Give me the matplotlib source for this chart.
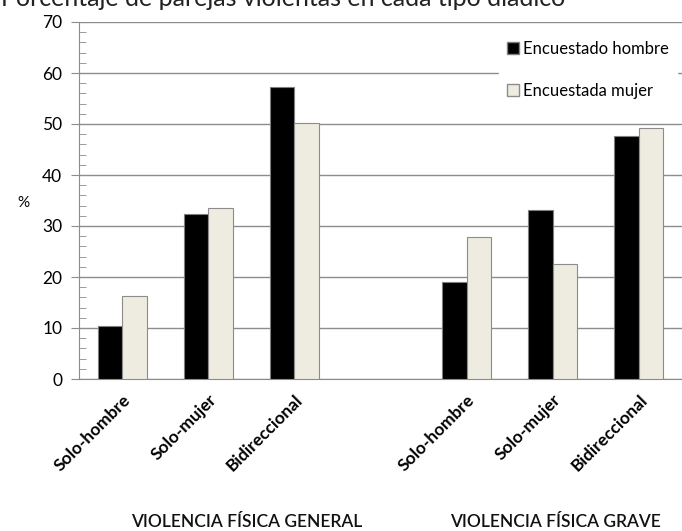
import numpy as np
import matplotlib
matplotlib.use("Agg")
import matplotlib.pyplot as plt
from matplotlib.patches import Patch

plt.rcParams['font.family'] = ['Lato', 'DejaVu Sans']

categorias = ['Solo-hombre', 'Solo-mujer', 'Bidireccional', '',
              'Solo-hombre', 'Solo-mujer', 'Bidireccional']
hombre = [10.3, 32.4, 57.3, np.nan, 19.0, 33.1, 47.6]
mujer = [16.2, 33.5, 50.1, np.nan, 27.9, 22.5, 49.3]
series = ['Encuestado hombre', 'Encuestada mujer']
grupos = ['VIOLENCIA FÍSICA GENERAL', 'VIOLENCIA FÍSICA GRAVE']

fig = plt.figure(figsize=(6.82, 5.31), dpi=100)
ax = fig.add_axes([79/682, 1-379/531, 603/682, 357/531])

x = np.arange(len(categorias))
w = 0.285
ax.bar(x - w/2, hombre, w, color='black', edgecolor='#7f7f7f', linewidth=0.8, zorder=3)
ax.bar(x + w/2, mujer, w, color='#eeebe0', edgecolor='#8c8c8c', linewidth=0.8, zorder=3)

ax.set_xlim(-0.5, 6.5)
ax.set_ylim(0, 70)
ax.set_yticks(range(0, 71, 10))
ax.set_yticks(range(0, 71, 2), minor=True)
ax.yaxis.grid(True, color='#8c8c8c', linewidth=1)
ax.set_axisbelow(True)
ax.tick_params(axis='y', which='major', direction='out', length=6, color='#8c8c8c',
               labelsize=12.5, pad=6)
ax.tick_params(axis='y', which='minor', direction='in', length=5, color='#8c8c8c')
for s in ['top', 'right']:
    ax.spines[s].set_visible(False)
for s in ['left', 'bottom']:
    ax.spines[s].set_color('#8c8c8c')

ax.set_xticks(x)
ax.set_xticklabels(categorias, rotation=45, ha='right', rotation_mode='anchor',
                   fontweight='bold', fontsize=12.5)
ax.tick_params(axis='x', length=0, pad=9)

handles = [Patch(facecolor='black', edgecolor='#7f7f7f'),
           Patch(facecolor='#eeebe0', edgecolor='#8c8c8c')]
leg = ax.legend(handles, series, loc='upper right', bbox_to_anchor=(1.0, 0.985),
                frameon=True, facecolor='white', edgecolor='white', framealpha=1,
                fontsize=12, handlelength=0.7, handleheight=0.7, handletextpad=0.25,
                labelspacing=1.55, borderpad=0.5, borderaxespad=0.3, fancybox=False)
leg.set_zorder(5)

fig.text(23/682, 1-203/531, '%', fontsize=11, ha='center', va='center')
fig.text(247/682, 1-527/531, grupos[0], fontsize=12.5, fontweight='semibold',
         ha='center', va='baseline', color='#111111')
fig.text(555/682, 1-527/531, grupos[1], fontsize=12.5, fontweight='semibold',
         ha='center', va='baseline', color='#111111')
fig.text(1/682, 1-6/531, 'Porcentaje de parejas violentas en cada tipo diádico',
         fontsize=18, ha='left', va='baseline', color='#222222')

fig.savefig('out.png', dpi=100)
